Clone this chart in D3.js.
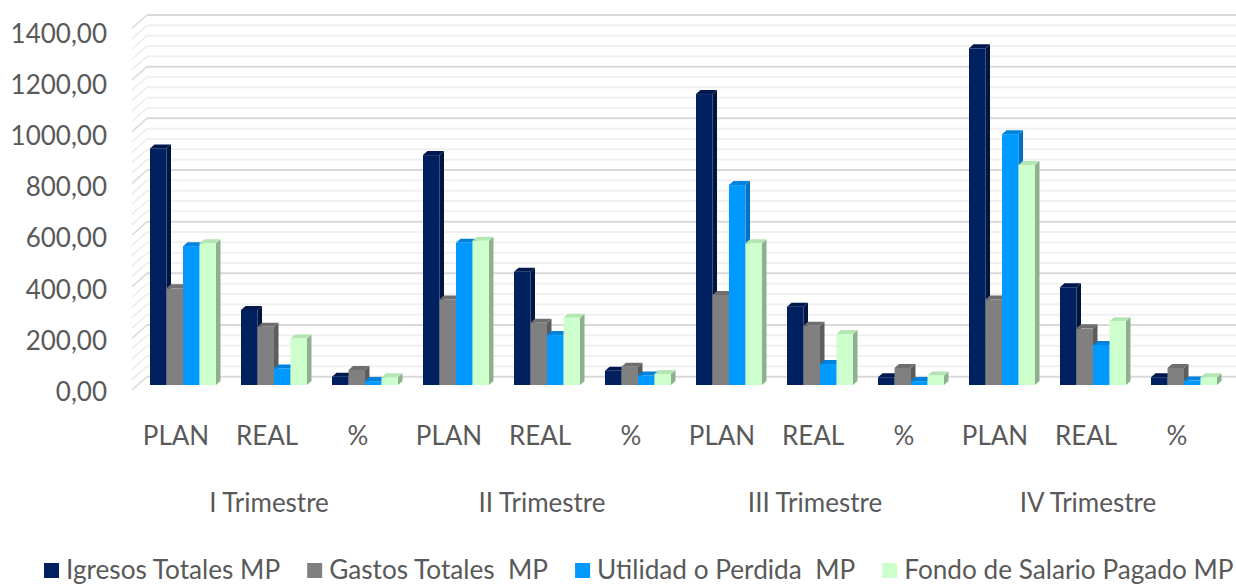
<!DOCTYPE html>
<html>
<head>
<meta charset="utf-8">
<script src="https://cdn.jsdelivr.net/npm/d3@7"></script>
<style>
  body { margin: 0; background: #fff; }
  svg { display: block; font-family: Lato, "Open Sans", sans-serif; }
</style>
</head>
<body>
<div id="chart"></div>
<script>
(function() {
  var width = 1236,
      height = 585;

  // categories
  var quarters = ["I Trimestre", "II Trimestre", "III Trimestre", "IV Trimestre"];
  var subCats = ["PLAN", "REAL", "%"];

  // series values, in order PLAN, REAL, % for each quarter
  var igresos  = [915, 290, 32, 889, 438, 55, 1125, 303, 30, 1302, 378, 30];
  var gastos   = [374, 225, 58, 331, 241, 71, 348, 229, 66, 331, 219, 66];
  var utilidad = [537, 64, 15, 550, 193, 37, 773, 81, 15, 970, 155, 17];
  var fondo    = [548, 180, 30, 558, 260, 43, 548, 197, 37, 851, 247, 30];

  var seriesNames = ["Igresos Totales MP", "Gastos Totales  MP", "Utilidad o Perdida  MP", "Fondo de Salario Pagado MP"];

  // tick labels
  var yTicks = [0, 200, 400, 600, 800, 1000, 1200, 1400];
  var yMinor = d3.range(0, 1401, 40);

  var series = [igresos, gastos, utilidad, fondo];

  // front / top / side colours of each series
  var colors = [
    { front: "#002060", top: "#00184d", side: "#001640" },
    { front: "#808080", top: "#6e6e6e", side: "#5c5c5c" },
    { front: "#0099ff", top: "#0082dc", side: "#0070c0" },
    { front: "#ccffcc", top: "#b4e6b4", side: "#8fb08f" }
  ];

  var svg = d3.select("#chart")
    .append("svg")
    .attr("width", width)
    .attr("height", height);

  var nCat = quarters.length * subCats.length;

  // x position of the bars (front faces)
  var x = d3.scaleBand()
    .domain(d3.range(nCat))
    .range([137.5, 1229.5])
    .paddingInner(25 / 91)
    .paddingOuter(12.5 / 91);

  var xs = d3.scaleBand()
    .domain(d3.range(series.length))
    .range([0, x.bandwidth()]);

  // the 3d wall sits behind the bars, labels sit in front
  var yWall = d3.scaleLinear().domain([0, 1400]).range([376.7, 15]);
  var yBar = d3.scaleLinear().domain([0, 1400]).range([385, 385 - 1400 * 0.2586]);
  var yLabel = d3.scaleLinear().domain([0, 1400]).range([391, 33]);

  var wallLeft = 147, sideDx = 15, sideDy = 13.3;
  var depthX = 4.5, depthY = -4;

  // back wall gridlines
  var grid = svg.append("g");
  grid.selectAll(".back")
    .data(yMinor)
    .enter().append("line")
    .attr("x1", wallLeft)
    .attr("x2", width)
    .attr("y1", function(d) { return yWall(d); })
    .attr("y2", function(d) { return yWall(d); })
    .attr("stroke", function(d) { return d % 200 === 0 ? "#d9d9d9" : "#f0f0f0"; })
    .attr("stroke-width", 2);

  // side wall gridlines
  grid.selectAll(".side")
    .data(yMinor)
    .enter().append("line")
    .attr("x1", wallLeft - sideDx)
    .attr("x2", wallLeft)
    .attr("y1", function(d) { return yWall(d) + sideDy; })
    .attr("y2", function(d) { return yWall(d); })
    .attr("stroke", function(d) { return d % 200 === 0 ? "#d9d9d9" : "#ececec"; })
    .attr("stroke-width", 1.5);

  // bars, drawn left to right so the next front face covers the previous side
  var bars = [];
  d3.range(nCat).forEach(function(i) {
    series.forEach(function(s, j) {
      bars.push({ cat: i, ser: j, value: s[i] });
    });
  });

  var barG = svg.append("g");
  var w = xs.bandwidth();

  var bar = barG.selectAll("g")
    .data(bars)
    .enter().append("g");

  bar.append("path")
    .attr("fill", function(d) { return colors[d.ser].side; })
    .attr("d", function(d) {
      var x0 = x(d.cat) + xs(d.ser) + w, yt = yBar(d.value), yb = yBar(0);
      return "M" + x0 + "," + yt + "L" + (x0 + depthX) + "," + (yt + depthY) +
        "L" + (x0 + depthX) + "," + (yb + depthY) + "L" + x0 + "," + yb + "Z";
    });

  bar.append("path")
    .attr("fill", function(d) { return colors[d.ser].top; })
    .attr("d", function(d) {
      var x0 = x(d.cat) + xs(d.ser), yt = yBar(d.value);
      return "M" + x0 + "," + yt + "L" + (x0 + depthX) + "," + (yt + depthY) +
        "L" + (x0 + w + depthX) + "," + (yt + depthY) + "L" + (x0 + w) + "," + yt + "Z";
    });

  bar.append("rect")
    .attr("fill", function(d) { return colors[d.ser].front; })
    .attr("x", function(d) { return x(d.cat) + xs(d.ser); })
    .attr("y", function(d) { return yBar(d.value); })
    .attr("width", w)
    .attr("height", function(d) { return yBar(0) - yBar(d.value); });

  // y axis labels
  var fmt = d3.formatLocale({ decimal: ",", thousands: "", grouping: [3], currency: ["", ""] }).format(".2f");

  var yAxis = svg.append("g")
    .attr("transform", "translate(107,0)")
    .call(d3.axisLeft(yLabel).tickValues(yTicks).tickSize(0).tickPadding(0).tickFormat(fmt));
  yAxis.select(".domain").remove();
  yAxis.attr("font-family", null).attr("font-size", 26);
  yAxis.selectAll("text").attr("fill", "#595959").attr("dy", "0.36em");

  // category labels, in the front plane
  var xFront = x.copy().range([137.5 - 7, 1229.5 - 7]);
  var xAxis = svg.append("g")
    .attr("transform", "translate(0,427)")
    .call(d3.axisBottom(xFront).tickSize(0).tickPadding(0).tickFormat(function(i) { return subCats[i % subCats.length]; }));
  xAxis.select(".domain").remove();
  xAxis.attr("font-family", null).attr("font-size", 26);
  xAxis.selectAll("text").attr("fill", "#595959");

  svg.append("g").selectAll("text")
    .data(quarters)
    .enter().append("text")
    .attr("x", function(d, q) { return x(q * 3 + 1) + x.bandwidth() / 2 - 5; })
    .attr("y", 512)
    .attr("text-anchor", "middle")
    .attr("font-size", 26)
    .attr("fill", "#595959")
    .text(function(d) { return d; });

  // legend
  var legend = svg.append("g");
  var lx = 44;
  seriesNames.forEach(function(name, j) {
    legend.append("rect")
      .attr("x", lx)
      .attr("y", 563)
      .attr("width", 15)
      .attr("height", 15)
      .attr("fill", colors[j].front);
    var t = legend.append("text")
      .attr("x", lx + 22)
      .attr("y", 579)
      .attr("font-size", 26.2)
      .attr("fill", "#595959")
      .style("white-space", "pre")
      .text(name);
    lx += 22 + t.node().getComputedTextLength() + 27;
  });
})();
</script>
</body>
</html>
